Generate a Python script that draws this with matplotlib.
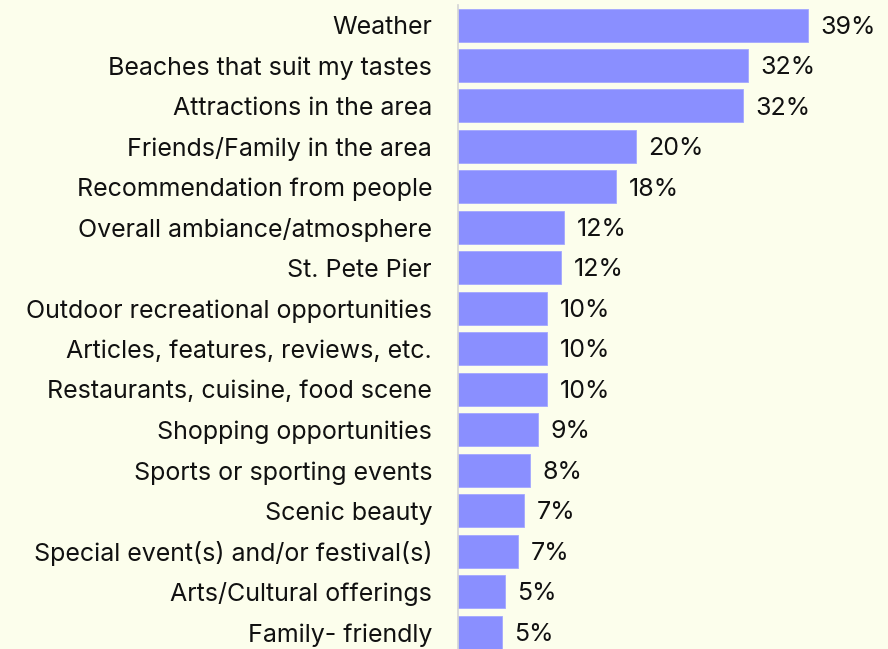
import matplotlib.pyplot as plt

# reasons for choosing the destination, share of respondents (%)
reasons = [
    'Weather',
    'Beaches that suit my tastes',
    'Attractions in the area',
    'Friends/Family in the area',
    'Recommendation from people',
    'Overall ambiance/atmosphere',
    'St. Pete Pier',
    'Outdoor recreational opportunities',
    'Articles, features, reviews, etc.',
    'Restaurants, cuisine, food scene',
    'Shopping opportunities',
    'Sports or sporting events',
    'Scenic beauty',
    'Special event(s) and/or festival(s)',
    'Arts/Cultural offerings',
    'Family- friendly',
]
shares = [39.0, 32.3, 31.8, 19.8, 17.6, 11.8, 11.5, 9.9, 9.9, 9.9,
          8.9, 8.0, 7.4, 6.7, 5.2, 4.9]

bg = '#fcfeec'
bar_color = '#8a8fff'

plt.rcParams['font.family'] = ['Inter', 'DejaVu Sans']

W, H = 888, 649
fig = plt.figure(figsize=(W / 100, H / 100), dpi=100, facecolor=bg)
ax = fig.add_axes([458 / W, 0, 430 / W, 644 / H], facecolor=bg)

ypos = range(len(reasons))
ax.barh(ypos, shares, height=0.815, color=bar_color, edgecolor='#a3a7ff',
        linewidth=0.6)

for y, v in zip(ypos, shares):
    ax.text(v + 1.4, y + 0.05, f'{v:.0f}%', va='center', ha='left',
            fontsize=18, color='#111111')

ax.set_xlim(0, 430 / 8.97)
ax.set_ylim(15.41, -0.494)
ax.set_yticks(list(ypos))
ax.set_yticklabels(reasons, fontsize=18, color='#111111')
ax.tick_params(axis='y', length=0, pad=18.7)
ax.set_xticks([])

for side in ['top', 'right', 'bottom']:
    ax.spines[side].set_visible(False)
ax.spines['left'].set_color('#d4d4d4')
ax.spines['left'].set_linewidth(1.2)

fig.savefig('out.png', dpi=100, facecolor=bg)
